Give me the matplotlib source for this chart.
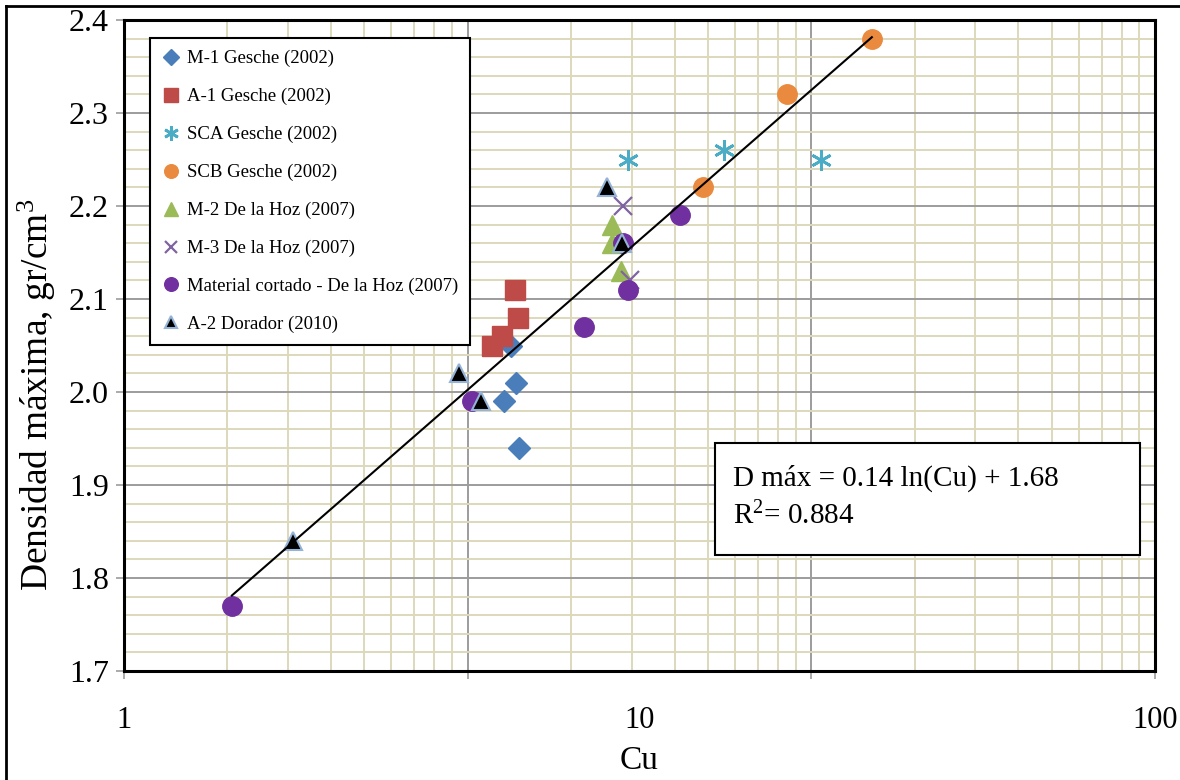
import numpy as np
import matplotlib
matplotlib.use("Agg")
import matplotlib.pyplot as plt
from matplotlib.ticker import LogLocator, MultipleLocator, NullLocator, NullFormatter
from matplotlib.patches import Rectangle
from matplotlib.lines import Line2D

plt.rcParams['font.family'] = ['Liberation Serif', 'DejaVu Serif']
plt.rcParams['mathtext.fontset'] = 'custom'
plt.rcParams['mathtext.rm'] = 'Liberation Serif'
plt.rcParams['mathtext.it'] = 'Liberation Serif:italic'

# Cu y densidad maxima (gr/cm3) por serie
m1_cu = [13.4, 13.8, 12.75, 14.1]
m1_d = [2.05, 2.01, 1.99, 1.94]

a1_cu = [13.7, 14.0, 12.6, 11.75]
a1_d = [2.11, 2.08, 2.06, 2.05]

sca_cu = [29.3, 55.8, 107.0]
sca_d = [2.25, 2.26, 2.25]

scb_cu = [48.5, 84.7, 150.0]
scb_d = [2.22, 2.32, 2.38]

m2_cu = [26.3, 26.3, 27.9]
m2_d = [2.18, 2.16, 2.13]

m3_cu = [28.4, 29.7]
m3_d = [2.20, 2.12]

mc_cu = [2.06, 10.3, 21.8, 28.4, 29.3, 41.5]
mc_d = [1.77, 1.99, 2.07, 2.16, 2.11, 2.19]

a2_cu = [3.10, 9.45, 10.9, 25.4, 28.1]
a2_d = [1.84, 2.02, 1.99, 2.22, 2.16]

# ajuste logaritmico
coef_a = 0.14
coef_b = 1.68
r2 = 0.884
cu_min, cu_max = 2.06, 150.0

etiquetas_x = ['1', '10', '100']

fig = plt.figure(figsize=(11.8, 7.8), dpi=100)
ax = fig.add_axes([124 / 1180, 1 - 671 / 780, 1031 / 1180, 651 / 780])

series = [
    (m1_cu, m1_d, dict(marker='D', ms=11, color='#4a7ebb', mec='#4a7ebb'), 'M-1 Gesche (2002)'),
    (a1_cu, a1_d, dict(marker='s', ms=14, color='#be4b48', mec='#be4b48'), 'A-1 Gesche (2002)'),
    (sca_cu, sca_d, dict(marker=(6, 2, 0), ms=15, color='#4bacc6', mec='#4bacc6', mew=2), 'SCA Gesche (2002)'),
    (scb_cu, scb_d, dict(marker='o', ms=14, color='#ea8a3e', mec='#ea8a3e'), 'SCB Gesche (2002)'),
    (m2_cu, m2_d, dict(marker='^', ms=14, color='#9bbb59', mec='#9bbb59'), 'M-2 De la Hoz (2007)'),
    (m3_cu, m3_d, dict(marker='x', ms=13, color='#8064a2', mec='#8064a2', mew=1.6), 'M-3 De la Hoz (2007)'),
    (mc_cu, mc_d, dict(marker='o', ms=14, color='#7030a0', mec='#7030a0'), 'Material cortado - De la Hoz (2007)'),
    (a2_cu, a2_d, dict(marker='^', ms=13, color='black', mec='#95b3d7', mew=1.5), 'A-2 Dorador (2010)'),
]

for cu, d, estilo, nombre in series:
    ax.plot(cu, d, linestyle='none', label=nombre, zorder=3, **estilo)

# linea de tendencia
cu_linea = np.geomspace(cu_min, cu_max, 100)
ax.plot(cu_linea, coef_a * np.log(cu_linea) + coef_b, color='black', lw=1.5, zorder=4)

ax.set_xscale('log')
ax.set_xlim(1, 1000)
ax.set_ylim(1.7, 2.4)
ax.xaxis.set_major_locator(LogLocator(base=10))
ax.xaxis.set_minor_locator(LogLocator(base=10, subs=np.arange(2, 10)))
ax.xaxis.set_major_formatter(NullFormatter())
ax.xaxis.set_minor_formatter(NullFormatter())
ax.yaxis.set_major_locator(MultipleLocator(0.1))
ax.yaxis.set_minor_locator(MultipleLocator(0.02))
ax.yaxis.set_major_formatter(plt.FuncFormatter(lambda v, p: f'{v:.1f}'))

ax.set_axisbelow(True)
ax.grid(which='minor', color='#ddd8bc', lw=1.4)
ax.grid(which='major', color='#9c9c9c', lw=1.4)
ax.tick_params(which='major', direction='out', length=6, width=1.2, color='#9c9c9c',
               labelsize=23, pad=5)
ax.tick_params(which='minor', length=0)
for lado in ax.spines.values():
    lado.set_color('black')
    lado.set_linewidth(2.2)

ax.set_ylabel('Densidad máxima, gr/cm$^3$', fontsize=27)
ax.yaxis.set_label_coords(-0.064, 0.424)

# escala impresa bajo el eje
sec = ax.secondary_xaxis('bottom', functions=(lambda c: np.power(np.clip(c, 1e-9, None), 2 / 3),
                                              lambda c: np.power(np.clip(c, 1e-9, None), 1.5)))
sec.set_xticks([1, 10, 100], labels=etiquetas_x)
sec.xaxis.set_minor_locator(NullLocator())
sec.tick_params(length=0, labelsize=22, pad=25)
sec.spines['bottom'].set_visible(False)
sec.set_xlabel('Cu', fontsize=24, labelpad=8)

# leyenda
manejadores, nombres = ax.get_legend_handles_labels()
leg = ax.legend(manejadores, nombres, loc='upper left', bbox_to_anchor=(0.0252, 0.9724),
                borderaxespad=0, fontsize=13.5, markerscale=0.7, handlelength=0.9,
                handletextpad=0.4, labelspacing=1.1, borderpad=0.65, frameon=True,
                fancybox=False, framealpha=1, edgecolor='black')
leg.get_frame().set_linewidth(1.5)
leg.set_zorder(5)

# recuadro con la ecuacion
ax.add_patch(Rectangle((0.5732, 0.1782), 0.4123, 0.172, transform=ax.transAxes,
                       facecolor='white', edgecolor='black', lw=1.5, zorder=5))
ax.text(0.5907, 0.2965, f'D máx = {coef_a:.2f} ln(Cu) + {coef_b:.2f}', transform=ax.transAxes,
        fontsize=21, va='center', ha='left', zorder=6)
ax.text(0.5907, 0.238, f'R$^{{2}}$= {r2:.3f}', transform=ax.transAxes,
        fontsize=21, va='center', ha='left', zorder=6)

# borde de la figura
fig.add_artist(Line2D([6 / 1180, 6 / 1180], [0, 1 - 6 / 780], color='black', lw=2))
fig.add_artist(Line2D([6 / 1180, 1], [1 - 6 / 780, 1 - 6 / 780], color='black', lw=2))

fig.savefig('out.png', dpi=100)
